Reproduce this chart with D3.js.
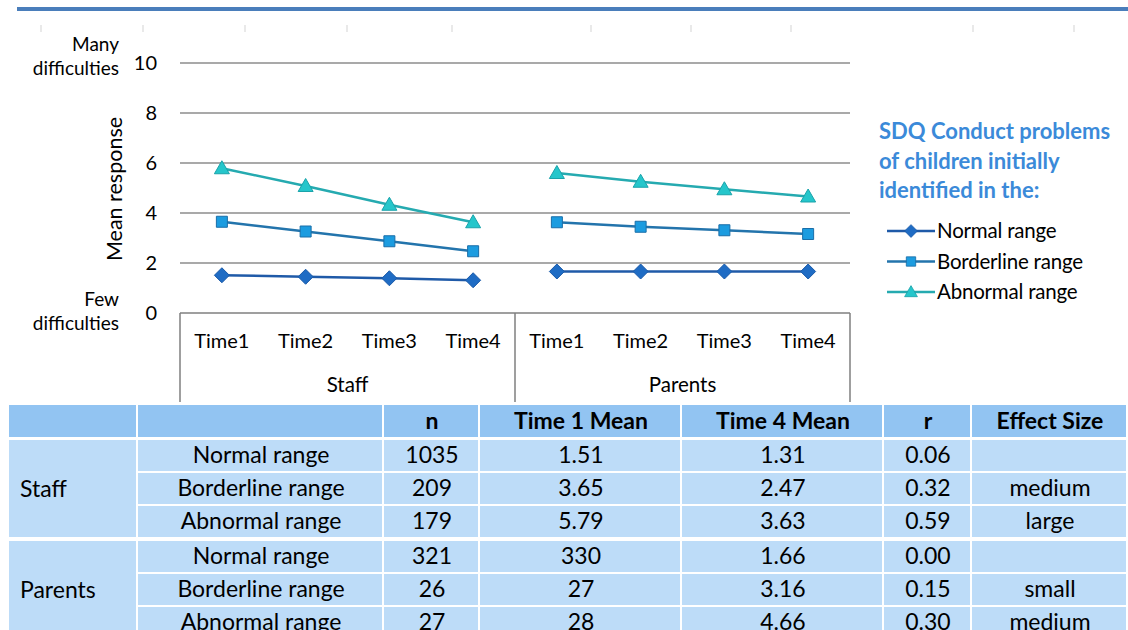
<!DOCTYPE html>
<html>
<head>
<meta charset="utf-8">
<script src="https://cdn.jsdelivr.net/npm/d3@7"></script>
<style>
  body { margin: 0; background: #fff; }
  svg { display: block; font-family: Lato, "Open Sans", sans-serif; }
</style>
</head>
<body>
<svg width="1128" height="630"></svg>
<script>
// chart data
let groups = ["Staff", "Parents"];
let times = ["Time1", "Time2", "Time3", "Time4"];
let seriesNames = ["Normal range", "Borderline range", "Abnormal range"];
let staffNormal = [1.51, 1.45, 1.39, 1.31];
let staffBorderline = [3.65, 3.26, 2.87, 2.47];
let staffAbnormal = [5.79, 5.08, 4.33, 3.63];
let parentsNormal = [1.66, 1.66, 1.66, 1.66];
let parentsBorderline = [3.63, 3.45, 3.31, 3.16];
let parentsAbnormal = [5.60, 5.25, 4.95, 4.66];
let yTicks = [0, 2, 4, 6, 8, 10];

// table data
let tableHeader = ["", "", "n", "Time 1 Mean", "Time 4 Mean", "r", "Effect Size"];
let tableRanges = ["Normal range", "Borderline range", "Abnormal range"];
let staffN = ["1035", "209", "179"];
let staffT1 = ["1.51", "3.65", "5.79"];
let staffT4 = ["1.31", "2.47", "3.63"];
let staffR = ["0.06", "0.32", "0.59"];
let staffEffect = ["", "medium", "large"];
let parentsN = ["321", "26", "27"];
let parentsT1 = ["330", "27", "28"];
let parentsT4 = ["1.66", "3.16", "4.66"];
let parentsR = ["0.00", "0.15", "0.30"];
let parentsEffect = ["", "small", "medium"];

let svg = d3.select("svg");

// page decoration: header rule and ruler marks
svg.append("rect").attr("x", 17).attr("y", 7).attr("width", 1111).attr("height", 4).attr("fill", "#4a7ebb");
let rulerMarks = [41, 143, 245, 347, 452, 591, 691, 791, 973, 1074];
svg.selectAll(".ruler").data(rulerMarks).enter().append("line")
    .attr("x1", d => d).attr("x2", d => d).attr("y1", 25).attr("y2", 32)
    .attr("stroke", "#dadada").attr("stroke-width", 1.2);

// scales
let keys = [];
groups.forEach(g => times.forEach(t => keys.push(g + "|" + t)));
let x = d3.scaleBand().domain(keys).range([180, 850]);
let y = d3.scaleLinear().domain([0, 10]).range([313, 63]);

let series = [
    { name: seriesNames[0], values: staffNormal.concat(parentsNormal), line: "#1f5aa8", fill: "#1f6cc4", stroke: "#1a5aa8", shape: "diamond" },
    { name: seriesNames[1], values: staffBorderline.concat(parentsBorderline), line: "#2374ac", fill: "#1c9ce0", stroke: "#1a6ea8", shape: "square" },
    { name: seriesNames[2], values: staffAbnormal.concat(parentsAbnormal), line: "#25aab0", fill: "#25c6cb", stroke: "#1aa3aa", shape: "triangle" }
];

function markerPath(shape) {
    if (shape === "diamond") return "M0,-7.5L7.5,0L0,7.5L-7.5,0Z";
    if (shape === "square") return "M-5.5,-5.5H5.5V5.5H-5.5Z";
    return "M0,-7.5L7.5,5.5H-7.5Z";
}

// gridlines
svg.append("g").selectAll("line").data(yTicks.filter(d => d > 0)).enter().append("line")
    .attr("x1", 180).attr("x2", 850)
    .attr("y1", d => y(d)).attr("y2", d => y(d))
    .attr("stroke", "#8c8c8c").attr("stroke-width", 1.5);

// y axis labels
let yAxis = d3.axisLeft(y).tickValues(yTicks).tickSize(0).tickPadding(23);
let yg = svg.append("g").attr("transform", "translate(180,0)").call(yAxis);
yg.select(".domain").remove();
yg.selectAll("text").attr("font-size", 20).attr("fill", "#000").attr("font-family", "Lato, sans-serif");

svg.append("text").attr("transform", "translate(122,189) rotate(-90)")
    .attr("text-anchor", "middle").attr("font-size", 21.5).attr("fill", "#000")
    .text("Mean response");

let sideLabels = [["Many", 51], ["difficulties", 75], ["Few", 306], ["difficulties", 330]];
svg.selectAll(".side").data(sideLabels).enter().append("text")
    .attr("x", 119).attr("y", d => d[1]).attr("text-anchor", "end")
    .attr("font-size", 19).attr("fill", "#000").text(d => d[0]);

// category axis box
let axisBox = svg.append("g").attr("fill", "none").attr("stroke", "#7f7f7f").attr("stroke-width", 1.5);
axisBox.append("line").attr("x1", 180).attr("x2", 850).attr("y1", y(0)).attr("y2", y(0));
[180, x("Parents|Time1"), 850].forEach(px => {
    axisBox.append("line").attr("x1", px).attr("x2", px).attr("y1", y(0)).attr("y2", 402);
});

svg.selectAll(".tlab").data(keys).enter().append("text")
    .attr("x", d => x(d) + x.bandwidth() / 2).attr("y", 348)
    .attr("text-anchor", "middle").attr("font-size", 20).attr("fill", "#000")
    .text(d => d.split("|")[1]);

svg.selectAll(".glab").data(groups).enter().append("text")
    .attr("x", g => (x(g + "|Time1") + x(g + "|Time4") + x.bandwidth()) / 2).attr("y", 392)
    .attr("text-anchor", "middle").attr("font-size", 20.5).attr("fill", "#000")
    .text(d => d);

// lines (one segment per group)
let line = d3.line().x(d => x(d.key) + x.bandwidth() / 2).y(d => y(d.v));
series.forEach(s => {
    let pts = keys.map((k, i) => ({ key: k, v: s.values[i] }));
    groups.forEach(g => {
        let seg = pts.filter(p => p.key.startsWith(g + "|"));
        svg.append("path").datum(seg).attr("d", line)
            .attr("fill", "none").attr("stroke", s.line).attr("stroke-width", 2.5);
    });
    svg.selectAll(null).data(pts).enter().append("path")
        .attr("d", markerPath(s.shape))
        .attr("transform", d => `translate(${x(d.key) + x.bandwidth() / 2},${y(d.v)})`)
        .attr("fill", s.fill).attr("stroke", s.stroke).attr("stroke-width", 1);
});

// legend
let legendTitle = ["SDQ Conduct problems", "of children initially", "identified in the:"];
svg.selectAll(".ltitle").data(legendTitle).enter().append("text")
    .attr("x", 879).attr("y", (d, i) => 139 + i * 29.5)
    .attr("font-size", 22).attr("font-weight", "bold").attr("fill", "#3b8ad9")
    .text(d => d);

let legend = svg.selectAll(".legend").data(series).enter().append("g")
    .attr("transform", (d, i) => `translate(887,${231 + i * 30.5})`);
legend.append("line").attr("x1", 0).attr("x2", 48).attr("y1", 0).attr("y2", 0)
    .attr("stroke", d => d.line).attr("stroke-width", 2.5);
legend.append("path").attr("d", d => markerPath(d.shape))
    .attr("transform", "translate(24,0) scale(0.85)")
    .attr("fill", d => d.fill).attr("stroke", d => d.stroke);
legend.append("text").attr("x", 50).attr("y", 7)
    .attr("font-size", 20.5).attr("fill", "#000").attr("letter-spacing", -0.2)
    .text(d => d.name);

// table
let colEdges = [9, 138, 384, 480, 682, 884, 972, 1128];
let headerRow = { y: 405, h: 32 };
let bodyRows = [
    { y: 440, h: 33 }, { y: 473, h: 33 }, { y: 506, h: 33 },
    { y: 541, h: 33 }, { y: 574, h: 33 }, { y: 607, h: 33 }
];
let tableRows = [];
tableRanges.forEach((r, i) => tableRows.push([r, staffN[i], staffT1[i], staffT4[i], staffR[i], staffEffect[i]]));
tableRanges.forEach((r, i) => tableRows.push([r, parentsN[i], parentsT1[i], parentsT4[i], parentsR[i], parentsEffect[i]]));

let table = svg.append("g").attr("font-size", 23).attr("fill", "#000");
tableHeader.forEach((h, c) => {
    table.append("rect").attr("x", colEdges[c]).attr("y", headerRow.y)
        .attr("width", colEdges[c + 1] - colEdges[c] - 2).attr("height", headerRow.h)
        .attr("fill", "#92c4f2");
    table.append("text").attr("x", (colEdges[c] + colEdges[c + 1]) / 2).attr("y", headerRow.y + headerRow.h / 2 + 8)
        .attr("text-anchor", "middle").attr("font-weight", "bold").text(h);
});

groups.forEach((g, gi) => {
    let r0 = bodyRows[gi * 3], r2 = bodyRows[gi * 3 + 2];
    let bottom = Math.min(r2.y + r2.h - 2, 630);
    table.append("rect").attr("x", colEdges[0]).attr("y", r0.y)
        .attr("width", colEdges[1] - colEdges[0] - 2).attr("height", bottom - r0.y)
        .attr("fill", "#bddcf8");
    let mid = (r0.y + r2.y + r2.h - 2) / 2;
    table.append("text").attr("x", 20).attr("y", mid + 8).text(g);
});

tableRows.forEach((row, ri) => {
    let r = bodyRows[ri];
    row.forEach((cell, ci) => {
        let c = ci + 1;
        table.append("rect").attr("x", colEdges[c]).attr("y", r.y)
            .attr("width", colEdges[c + 1] - colEdges[c] - 2).attr("height", r.h - 2)
            .attr("fill", "#bddcf8");
        table.append("text").attr("x", (colEdges[c] + colEdges[c + 1]) / 2).attr("y", r.y + r.h / 2 + 6)
            .attr("text-anchor", "middle").text(cell);
    });
});
</script>
</body>
</html>
